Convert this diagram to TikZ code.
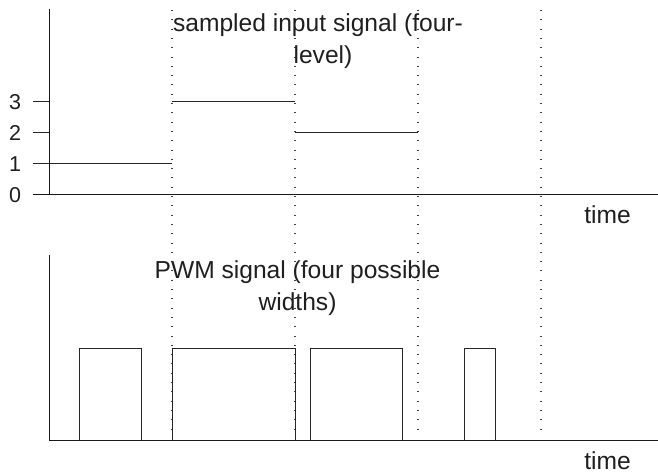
\documentclass[tikz,border=0pt]{standalone}
\usepackage{fontspec}
\setmainfont{Liberation Sans}
\begin{document}
\begin{tikzpicture}[x=1pt,y=-1pt,
  sig/.style={line width=0.8pt,draw=black!85},
  axis/.style={line width=0.9pt,draw=black!90},
  guide/.style={line width=1.2pt,draw=black!75,dash pattern=on 1pt off 8.3pt},
  lbl/.style={inner sep=0pt,text=black!88,font=\fontsize{24.6}{31.5}\selectfont},
  digit/.style={inner sep=0pt,text=black!88,font=\fontsize{21.5}{24}\selectfont}]
\useasboundingbox (0,0) rectangle (658,474);
% guides
\foreach \x/\n in {172/a,295/b,418/c,541/d}
  \draw[guide] (\x,10) coordinate (g\n top) -- (\x,434) coordinate (g\n bot);
% top plot
\draw[axis] (49,9) -- (49,194);
\draw[axis] (33,194) -- (658,194);
\draw[sig] (33,101) -- (49,101);
\draw[sig] (33,132) -- (49,132);
\draw[sig] (33,163) -- (172,163);
\draw[sig] (172,101) -- (295,101);
\draw[sig] (295,132) -- (418,132);
\node[digit] (l3) at (15,102) {3};
\node[digit] (l2) at (15,133) {2};
\node[digit] (l1) at (15,164) {1};
\node[digit] (l0) at (15,195) {0};
\node[lbl,anchor=base,align=center] (t1) at (318,63) {sampled input signal (four-\\\hspace*{10pt}level)};
\node[lbl,anchor=base] (time1) at (607.5,223) {time};
% bottom plot
\draw[axis] (49,255) -- (49,440);
\draw[axis] (49,440) -- (658,440);
\draw[sig] (79,440) -- (79,348) -- (141,348) -- (141,440);
\draw[sig] (172,440) -- (172,348) -- (295,348) -- (295,440);
\draw[sig] (310,440) -- (310,348) -- (402,348) -- (402,440);
\draw[sig] (464,440) -- (464,348) -- (495,348) -- (495,440);
\node[lbl,anchor=base,align=center] (t2) at (297.5,310) {PWM signal (four possible\\widths)};
\node[lbl,anchor=base] (time2) at (607.5,469) {time};
\end{tikzpicture}
\end{document}
